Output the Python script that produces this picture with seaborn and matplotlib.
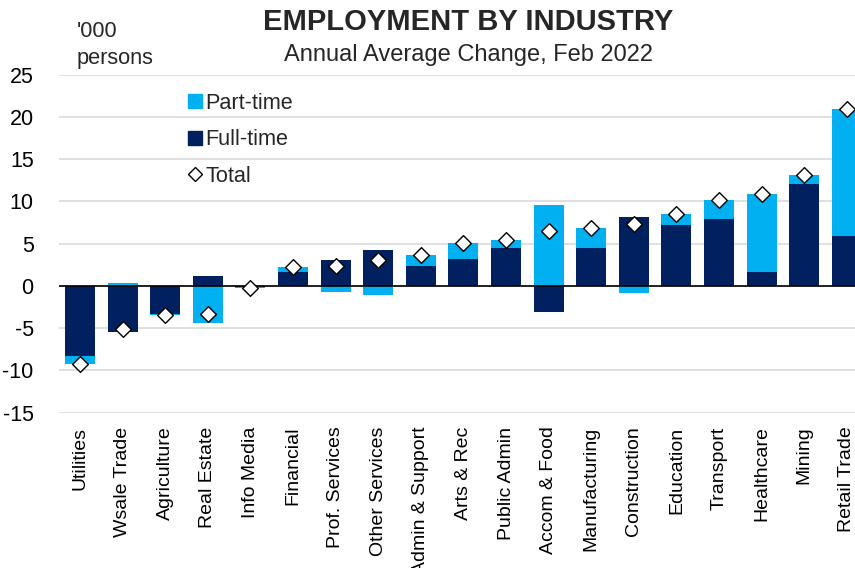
import numpy as np
import pandas as pd
import matplotlib
matplotlib.use("Agg")
import matplotlib.pyplot as plt
import seaborn as sns
from matplotlib.lines import Line2D

industries = ["Utilities", "Wsale Trade", "Agriculture", "Real Estate", "Info Media",
              "Financial", "Prof. Services", "Other Services", "Admin & Support",
              "Arts & Rec", "Public Admin", "Accom & Food", "Manufacturing",
              "Construction", "Education", "Transport", "Healthcare", "Mining",
              "Retail Trade"]
full_time = [-8.3, -5.4, -3.3, 1.15, -0.1, 1.6, 3.1, 4.2, 2.3, 3.2, 4.5, -3.1,
             4.5, 8.15, 7.2, 7.95, 1.6, 12.1, 5.95]
part_time = [-0.9, 0.3, -0.2, -4.45, -0.2, 0.65, -0.75, -1.1, 1.3, 1.85, 0.9, 9.6,
             2.3, -0.8, 1.3, 2.2, 9.3, 1.05, 15.0]
total = [-9.2, -5.1, -3.5, -3.3, -0.3, 2.25, 2.35, 3.1, 3.6, 5.1, 5.45, 6.5,
         6.8, 7.35, 8.5, 10.15, 10.9, 13.15, 20.95]
y_ticks = [-15, -10, -5, 0, 5, 10, 15, 20, 25]

sns.set_theme(style="white")
plt.rcParams['font.family'] = ['Liberation Sans', 'DejaVu Sans']
plt.rcParams['axes.unicode_minus'] = False

NAVY = "#002060"
CYAN = "#00B0F0"

ft = np.array(full_time)
pt = np.array(part_time)
same = np.sign(ft) == np.sign(pt)
pt_outer = np.where(same, ft + pt, pt)  # part-time stacked on full-time when same sign

df = pd.DataFrame({"Industry": industries, "FT": ft, "PTouter": pt_outer, "Total": total})

left_px = 58.7
fig = plt.figure(figsize=(8.55, 5.68), dpi=100)
ax = fig.add_axes([left_px / 855, 1 - 412.7 / 568, (855 - left_px) / 855, (412.7 - 74.5) / 568])

sns.barplot(data=df, x="Industry", y="PTouter", color=CYAN, saturation=1, width=0.7,
            edgecolor="none", ax=ax, order=industries)
sns.barplot(data=df, x="Industry", y="FT", color=NAVY, saturation=1, width=0.7,
            edgecolor="none", ax=ax, order=industries)
sns.stripplot(data=df, x="Industry", y="Total", jitter=False, marker="D", color="white",
              edgecolor="black", linewidth=1, size=8, ax=ax, order=industries, zorder=5)

ax.axhline(0, color="black", lw=1.2, zorder=4)
ax.set_ylim(-15, 25)
ax.set_yticks(y_ticks)
ax.set_xlim(-0.5, (855 - left_px) / 42.6 - 0.5)
ax.grid(axis="y", color="#D9D9D9", lw=1.2)
ax.set_axisbelow(True)
for s in ax.spines.values():
    s.set_visible(False)
ax.set_xlabel("")
ax.set_ylabel("")
ax.tick_params(axis="x", length=0, labelsize=14, colors="black", pad=10)
ax.tick_params(axis="y", length=0, labelsize=15.5, colors="black", pad=18)
plt.setp(ax.get_xticklabels(), rotation=90, ha="center", va="top")

fig.text(468 / 855, 1 - 22 / 568, "EMPLOYMENT BY INDUSTRY", ha="center", va="center",
         fontsize=21, fontweight="bold")
fig.text(468 / 855, 1 - 55 / 568, "Annual Average Change, Feb 2022", ha="center",
         va="center", fontsize=17)
fig.text(77 / 855, 1 - 45 / 568, "'000\npersons", ha="left", va="center", fontsize=15.7,
         linespacing=1.35)

handles = [
    Line2D([], [], marker="s", color="none", markerfacecolor=CYAN, markeredgecolor=CYAN, markersize=10),
    Line2D([], [], marker="s", color="none", markerfacecolor=NAVY, markeredgecolor=NAVY, markersize=10),
    Line2D([], [], marker="D", color="none", markerfacecolor="white", markeredgecolor="black", markersize=7),
]
leg = ax.legend(handles, ["Part-time", "Full-time", "Total"], loc="upper left",
                bbox_to_anchor=(175 / 855, 1 - 82 / 568), bbox_transform=fig.transFigure,
                frameon=False, fontsize=15.6, labelspacing=0.72, handlelength=0.8,
                handletextpad=0.1, borderpad=0)

fig.savefig("out.png", dpi=100)
